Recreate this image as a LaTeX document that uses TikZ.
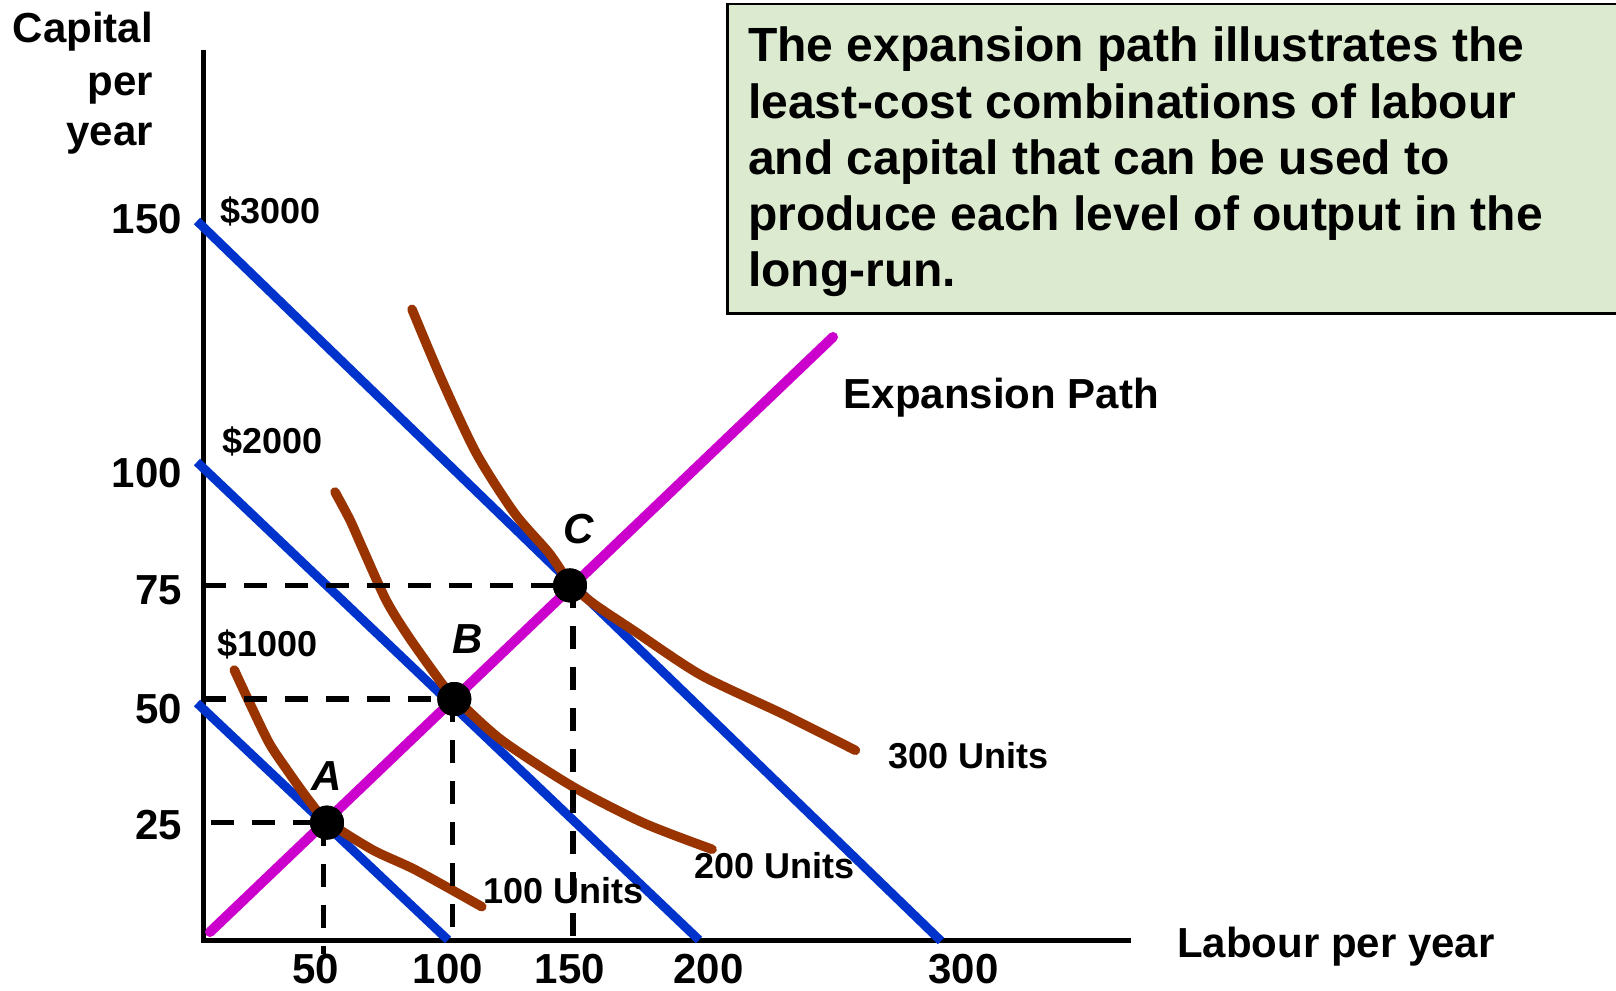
\documentclass[tikz,border=0pt]{standalone}
\usepackage{fontspec}
\setmainfont{Liberation Sans}
\definecolor{budgetblue}{RGB}{0,51,204}
\definecolor{pathmag}{RGB}{204,0,204}
\definecolor{isobrown}{RGB}{153,51,0}
\definecolor{notefill}{RGB}{220,235,208}
\begin{document}
\begin{tikzpicture}[x=1pt,y=-1pt,
  budget/.style={budgetblue, line width=9pt},
  exppath/.style={pathmag, line width=10pt, line cap=round},
  iso/.style={isobrown, line width=9.5pt, line cap=round, line join=round},
  guide/.style={black, line width=5.5pt, dash pattern=on 23pt off 18pt},
  axisline/.style={black, line width=5pt},
  dotnode/.style={circle, fill=black, minimum size=34pt, inner sep=0pt},
  small/.style={font=\fontsize{36}{40}\selectfont\bfseries, inner sep=0pt},
  big/.style={font=\fontsize{42}{48}\selectfont\bfseries, inner sep=0pt},
  ptlabel/.style={font=\fontsize{42}{48}\selectfont\bfseries\itshape, inner sep=0pt, anchor=base},
  notebox/.style={draw=black, line width=2.5pt, fill=notefill, inner sep=0pt, anchor=north west},
  notetext/.style={font=\fontsize{48}{56}\selectfont\bfseries, inner sep=0pt, anchor=base west}]
\useasboundingbox (0,0) rectangle (1616,990);
\clip (0,0) rectangle (1616,990);

% note box
\node[notebox, minimum width=910pt, minimum height=309pt] (note) at (726,3) {};
\node[notetext] (n1) at (748,61.7) {The expansion path illustrates the};
\node[notetext] (n2) at (748,118) {least-cost combinations of labour};
\node[notetext] (n3) at (748,174.3) {and capital that can be used to};
\node[notetext] (n4) at (748,230.6) {produce each level of output in the};
\node[notetext] (n5) at (748,286.9) {long-run.};

% axes
\coordinate (O) at (203,940);
\coordinate (ytop) at (203,50);
\coordinate (xend) at (1131,940);
\draw[axisline] (ytop) -- (O);
\draw[axisline] (201,940) -- (xend);

% budget lines
\coordinate (b3s) at (197,221);
\coordinate (b3e) at (941,941);
\coordinate (b2s) at (197,462);
\coordinate (b2e) at (699,940);
\coordinate (b1s) at (197,703);
\coordinate (b1e) at (448,940);
\draw[budget] (b3s) -- (b3e);
\draw[budget] (b2s) -- (b2e);
\draw[budget] (b1s) -- (b1e);

% expansion path
\coordinate (ps) at (210,932);
\coordinate (pe) at (833,337);
\draw[exppath] (ps) -- (pe);

% isoquants
\draw[iso] plot[smooth, tension=0.45] coordinates {(234.3,670) (251.4,706.7) (269.3,743.3) (287.1,770) (308.6,800) (327,821) (372.9,850) (415.7,870) (481.8,906.7)};
\draw[iso] plot[smooth, tension=0.45] coordinates {(335,492) (350,520) (362,547) (386,600) (408.6,636.7) (444.3,686.7) (456,699) (501.4,740) (572.9,786.7) (644.3,823.3) (712.1,849.3)};
\draw[iso] plot[smooth, tension=0.45] coordinates {(412,309.3) (441.8,380) (476.3,453.3) (514.6,513.3) (549,553) (570,583) (592.6,603) (633.8,630.7) (700.8,675) (783.3,714.2) (855.4,750.3)};

% points
\node[dotnode] (A) at (327,822.6) {};
\node[dotnode] (B) at (454.3,699) {};
\node[dotnode] (C) at (570,585.4) {};

% guide lines
\draw[guide] (O |- C) -- (C.center);
\draw[guide] ([xshift=3pt]C.center) -- ([xshift=3pt]C |- O);
\draw[guide] (O |- B) -- (B.center);
\draw[guide] ([xshift=-2pt]B.center) -- ([xshift=-2pt]B |- O);
\draw[guide] ([xshift=8pt]O |- A) -- (A.center);
\draw[guide] ([xshift=-3.5pt]A.center) -- ([xshift=-3.5pt,yshift=-14pt]A |- O);
\node[dotnode] at (A) {};
\node[dotnode] at (B) {};
\node[dotnode] at (C) {};

% point labels
\node[ptlabel] (lA) at (326.4,790) {A};
\node[ptlabel] (lB) at (467.5,653.3) {B};
\node[ptlabel] (lC) at (578.9,543) {C};

% budget labels
\node[small, anchor=base west] (c3) at (220,223) {\$3000};
\node[small, anchor=base west] (c2) at (222.6,453.5) {\$2000};
\node[small, anchor=base west] (c1) at (217.5,656.5) {\$1000};

% isoquant labels
\node[small, anchor=base west] (u1) at (483.6,903) {100 Units};
\node[small, anchor=base west] (u2) at (694,878) {200 Units};
\node[small, anchor=base west] (u3) at (888,768) {300 Units};

% other labels
\node[big, anchor=base west] (ep) at (843.7,408) {Expansion Path};
\node[big, anchor=base west] (lx) at (1177,957) {Labour per year};
\node[big, anchor=base east] (ly1) at (153,43) {Capital};
\node[big, anchor=base east] (ly2) at (153,95) {per};
\node[big, anchor=base east] (ly3) at (153,145) {year};

% y ticks
\node[big, anchor=base east] (y150) at (182,233) {150};
\node[big, anchor=base east] (y100) at (182,487) {100};
\node[big, anchor=base east] (y75) at (182,604.5) {75};
\node[big, anchor=base east] (y50) at (182,723) {50};
\node[big, anchor=base east] (y25) at (182,839.5) {25};

% x ticks
\node[big, anchor=base] (x50) at (316,983) {50};
\node[big, anchor=base] (x100) at (448,983) {100};
\node[big, anchor=base] (x150) at (570,983) {150};
\node[big, anchor=base] (x200) at (708.5,983) {200};
\node[big, anchor=base] (x300) at (963.6,983) {300};
\end{tikzpicture}
\end{document}
